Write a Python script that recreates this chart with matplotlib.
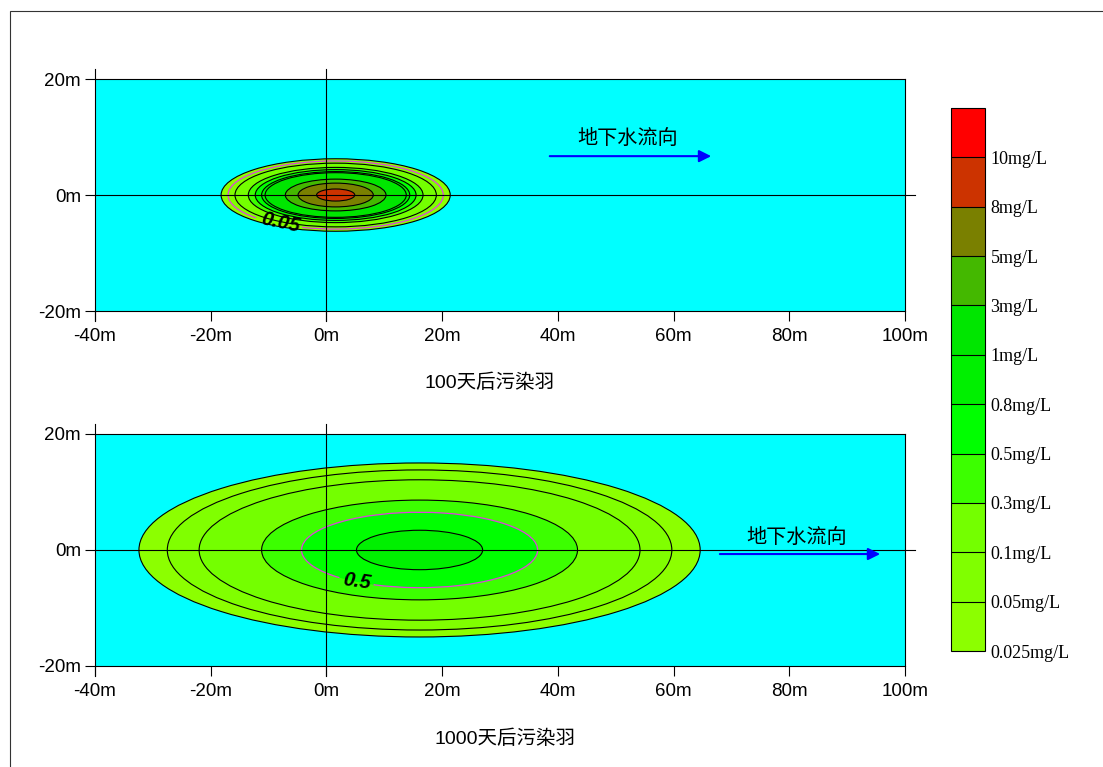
import matplotlib
matplotlib.use("Agg")
import matplotlib.pyplot as plt
from matplotlib.patches import Ellipse, Arc, Rectangle
from matplotlib.colors import ListedColormap, BoundaryNorm
from matplotlib.cm import ScalarMappable

plt.rcParams["font.family"] = ["Liberation Sans", "Noto Sans CJK SC"]

# colour bands, bottom (0.025-0.05) to top (>10)
band_colors = ["#8CFF00", "#80FF00", "#74FF00", "#3CFF00", "#00FF00",
               "#00F000", "#00E600", "#44B800", "#7A8000", "#CC3300",
               "#FF0000"]
bar_labels = ["0.025mg/L", "0.05mg/L", "0.1mg/L", "0.3mg/L", "0.5mg/L",
              "0.8mg/L", "1mg/L", "3mg/L", "5mg/L", "8mg/L", "10mg/L"]

# contour levels (mg/L) and ellipse half axes (m)
levels_100 = [0.025, 0.05, 0.1, 0.3, 0.5, 0.8, 1, 3, 5, 8]
half_x_100 = [19.8, 18.6, 17.4, 15.1, 13.9, 12.8, 12.2, 8.7, 6.5, 3.3]
half_y_100 = [6.25, 5.87, 5.49, 4.76, 4.38, 4.04, 3.85, 2.74, 2.05, 1.04]
center_100 = 1.6

levels_1000 = [0.025, 0.05, 0.1, 0.3, 0.5, 0.8]
half_x_1000 = [48.5, 43.6, 38.1, 27.3, 20.4, 10.9]
half_y_1000 = [15.0, 13.8, 12.1, 8.6, 6.5, 3.4]
center_1000 = 16.1

x_ticks = [-40, -20, 0, 20, 40, 60, 80, 100]
y_ticks = [-20, 0, 20]


def draw_plume(ax, levels, hx, hy, xc, magenta_level, gap, label_pos, label_rot, label):
    ax.set_facecolor("#00FFFF")
    for i, lev in enumerate(levels):
        color = band_colors[bar_labels.index(f"{lev:g}mg/L")]
        edge = "none" if lev == magenta_level else "black"
        ax.add_patch(Ellipse((xc, 0), 2 * hx[i], 2 * hy[i],
                             facecolor=color, edgecolor=edge, lw=0.8))
    for i, lev in enumerate(levels):
        if lev == magenta_level:
            ax.add_patch(Arc((xc, 0), 2 * hx[i], 2 * hy[i],
                             theta1=gap[1], theta2=gap[0],
                             color="#E040E0", lw=0.9))
    ax.text(label_pos[0], label_pos[1], label, fontsize=14.5, fontweight="bold",
            style="italic", rotation=label_rot, ha="center", va="center")

    ax.set_xlim(-40, 100)
    ax.set_ylim(-20, 20)
    ax.set_xticks(x_ticks)
    ax.set_xticklabels([f"{v}m" for v in x_ticks])
    ax.set_yticks(y_ticks)
    ax.set_yticklabels([f"{v}m" for v in y_ticks])
    ax.tick_params(direction="out", length=7, width=0.8, labelsize=13.5, pad=3)
    ax.tick_params(axis="x", pad=5)
    ax.spines["left"].set_visible(False)
    for s in ["top", "right", "bottom"]:
        ax.spines[s].set_linewidth(0.8)

    # extended left axis and cross lines through origin
    ax.plot([-40, -40], [-21.7, 21.7], color="black", lw=0.8, clip_on=False)
    ax.plot([0, 0], [-21.7, 21.7], color="black", lw=0.8, clip_on=False)
    ax.plot([-40, 101.7], [0, 0], color="black", lw=0.8, clip_on=False)


def flow_arrow(ax, x0, x1, y, tx, ty):
    ax.annotate("", xy=(x1, y), xytext=(x0, y),
                arrowprops=dict(arrowstyle="-|>", color="blue", lw=1.5,
                                mutation_scale=18, shrinkA=0, shrinkB=0))
    ax.text(tx, ty, "地下水流向", fontsize=14.5, ha="center", va="center",
            family=["Noto Sans CJK SC"])


fig = plt.figure(figsize=(11.03, 7.67), dpi=100)

ax1 = fig.add_axes([0.0861, 0.5945, 0.7344, 0.3025])
draw_plume(ax1, levels_100, half_x_100, half_y_100, center_100,
           0.05, (196, 224), (-8.0, -4.8), -12, "0.05")
flow_arrow(ax1, 38.6, 66.5, 6.7, 52.1, 9.7)

ax2 = fig.add_axes([0.0861, 0.1317, 0.7344, 0.3025])
draw_plume(ax2, levels_1000, half_x_1000, half_y_1000, center_1000,
           0.5, (199, 217), (5.3, -5.5), -8, "0.5")
flow_arrow(ax2, 68.0, 95.7, -0.7, 81.3, 2.1)

fig.text(0.444, 0.5007, "100天后污染羽", fontsize=14, ha="center", va="center")
fig.text(0.458, 0.0365, "1000天后污染羽", fontsize=14, ha="center", va="center")

# colour bar
cax = fig.add_axes([0.8622, 0.1512, 0.0308, 0.708])
bounds = list(range(len(band_colors) + 1))
cb = fig.colorbar(ScalarMappable(norm=BoundaryNorm(bounds, len(band_colors)),
                                 cmap=ListedColormap(band_colors)),
                  cax=cax, drawedges=True)
cb.minorticks_off()
cb.set_ticks(bounds[:-1])
cb.set_ticklabels(bar_labels)
cb.ax.tick_params(which="both", length=0, pad=4)
for t in cb.ax.get_yticklabels():
    t.set_family("Liberation Serif")
    t.set_fontsize(13)
cb.outline.set_linewidth(0.8)
cb.dividers.set_color("black")
cb.dividers.set_linewidth(0.8)

# outer frame
fig.patches.append(Rectangle((10 / 1103, -0.1), 1.2, 1.1 - 11 / 767,
                             transform=fig.transFigure, fill=False,
                             edgecolor="#333333", lw=0.8))

fig.savefig("out.png", dpi=100)
